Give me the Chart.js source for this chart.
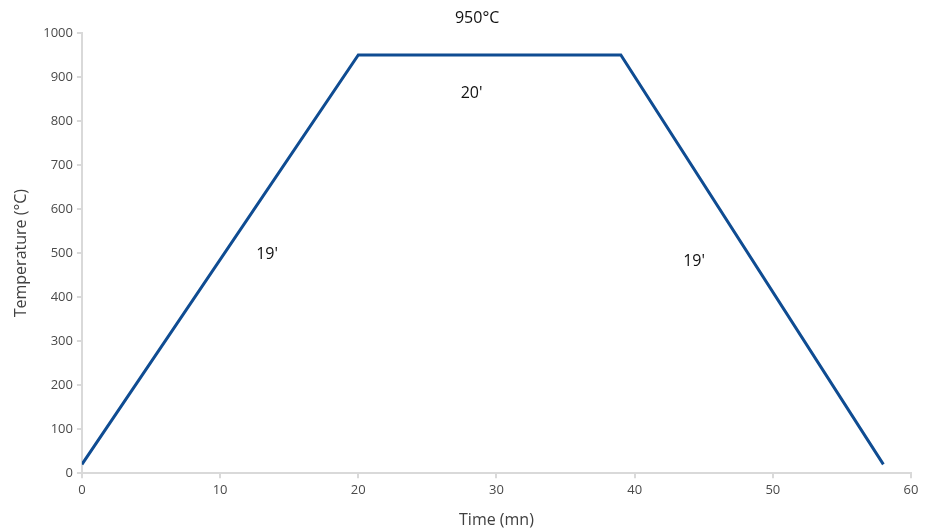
<!DOCTYPE html>
<html>
<head>
<meta charset="utf-8">
<script src="https://cdn.jsdelivr.net/npm/chart.js@4/dist/chart.umd.min.js"></script>
<style>
  html, body { margin: 0; padding: 0; background: #fff; }
  #wrap { width: 931px; height: 530px; }
</style>
</head>
<body>
<div id="wrap"><canvas id="myChart" width="931" height="530"></canvas></div>
<script>
// temperature profile (time in minutes, temperature in °C)
const timeMin = [0, 20, 39, 58];
const tempC = [20, 950, 950, 20];

// text labels on the chart: [text, x, y] in data units
const labelText = ["950°C", "20'", "19'", "19'"];
const labelX = [28.6, 28.2, 13.4, 44.3];
const labelY = [1032, 863, 497, 481];

const points = timeMin.map((t, i) => ({ x: t, y: tempC[i] }));

const textLabels = {
  id: "textLabels",
  afterDatasetsDraw(chart) {
    const ctx = chart.ctx;
    const xs = chart.scales.x;
    const ys = chart.scales.y;
    ctx.save();
    ctx.font = "16px 'Open Sans'";
    ctx.fillStyle = "#111";
    ctx.textAlign = "center";
    ctx.textBaseline = "middle";
    labelText.forEach((txt, i) => {
      ctx.fillText(txt, xs.getPixelForValue(labelX[i]), ys.getPixelForValue(labelY[i]));
    });
    ctx.restore();
  },
};

const gray = "#d9d9d9";
const tickFont = { family: "'Open Sans'", size: 13 };

new Chart(document.getElementById("myChart").getContext("2d"), {
  type: "line",
  data: {
    datasets: [
      {
        data: points,
        borderColor: "#0f4c92",
        borderWidth: 3,
        pointRadius: 0,
        tension: 0,
        fill: false,
      },
    ],
  },
  options: {
    responsive: false,
    animation: false,
    layout: { padding: { top: 33, right: 20, left: 12, bottom: 0 } },
    plugins: {
      legend: { display: false },
      tooltip: { enabled: false },
    },
    scales: {
      x: {
        type: "linear",
        min: 0,
        max: 60,
        ticks: { stepSize: 10, color: "#4a4a4a", font: tickFont, padding: 4 },
        grid: { drawOnChartArea: false, drawTicks: true, tickLength: 5, color: gray, lineWidth: 2 },
        border: { color: gray, width: 2 },
        title: {
          display: true,
          text: "Time (mn)",
          color: "#404040",
          font: { family: "'Open Sans'", size: 16 },
          padding: { top: 9, bottom: 0 },
        },
      },
      y: {
        min: 0,
        max: 1000,
        ticks: {
          stepSize: 100,
          color: "#4a4a4a",
          font: tickFont,
          padding: 4,
          callback: (v) => String(v),
        },
        grid: { drawOnChartArea: false, drawTicks: true, tickLength: 5, color: gray, lineWidth: 2 },
        border: { color: gray, width: 2 },
        title: {
          display: true,
          text: "Temperature (°C)",
          color: "#404040",
          font: { family: "'Open Sans'", size: 16 },
          padding: { top: 0, bottom: 8 },
        },
      },
    },
  },
  plugins: [textLabels],
});
</script>
</body>
</html>
